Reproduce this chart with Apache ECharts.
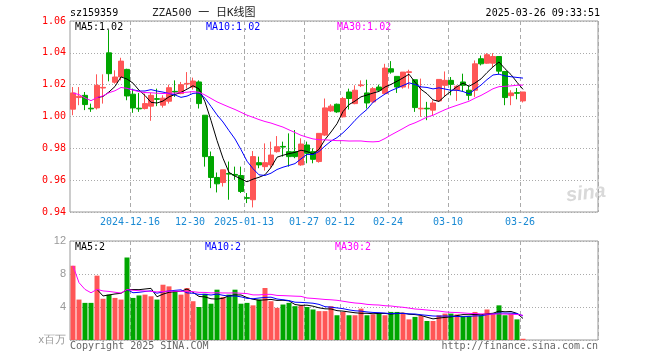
<!DOCTYPE html>
<html><head><meta charset="utf-8">
<script src="https://cdn.jsdelivr.net/npm/echarts/dist/echarts.min.js"></script>
<style>html,body{margin:0;padding:0;background:#fff}#c{width:660px;height:360px}</style>
</head><body><div id="c"></div><script>
const dates = [
 '2024-12-02','2024-12-03','2024-12-04','2024-12-05','2024-12-06','2024-12-09','2024-12-10','2024-12-11','2024-12-12','2024-12-13',
 '2024-12-16','2024-12-17','2024-12-18','2024-12-19','2024-12-20','2024-12-23','2024-12-24','2024-12-25','2024-12-26','2024-12-27',
 '2024-12-30','2024-12-31','2025-01-02','2025-01-03','2025-01-06','2025-01-07','2025-01-08','2025-01-09','2025-01-10','2025-01-13',
 '2025-01-14','2025-01-15','2025-01-16','2025-01-17','2025-01-20','2025-01-21','2025-01-22','2025-01-23','2025-01-24','2025-01-27',
 '2025-02-05','2025-02-06','2025-02-07','2025-02-10','2025-02-11','2025-02-12','2025-02-13','2025-02-14','2025-02-17','2025-02-18',
 '2025-02-19','2025-02-20','2025-02-21','2025-02-24','2025-02-25','2025-02-26','2025-02-27','2025-02-28','2025-03-03','2025-03-04',
 '2025-03-05','2025-03-06','2025-03-07','2025-03-10','2025-03-11','2025-03-12','2025-03-13','2025-03-14','2025-03-17','2025-03-18',
 '2025-03-19','2025-03-20','2025-03-21','2025-03-24','2025-03-25','2025-03-26'];
const opens = [
 1.0046,1.0119,1.0133,1.0052,1.0054,1.0179,1.0400,1.0215,1.0248,1.0296,
 1.0140,1.0052,1.0050,1.0065,1.0112,1.0071,1.0096,1.0158,1.0144,1.0204,
 1.0185,1.0217,1.0008,0.9748,0.9617,0.9585,0.9642,0.9636,0.9629,0.9490,
 0.9477,0.9710,0.9685,0.9696,0.9779,0.9812,0.9779,0.9779,0.9696,0.9821,
 0.9779,0.9717,0.9883,1.0035,1.0077,0.9998,1.0154,1.0081,1.0194,1.0148,
 1.0092,1.0185,1.0144,1.0300,1.0252,1.0185,1.0277,1.0231,1.0048,1.0052,
 1.0040,1.0098,1.0196,1.0227,1.0165,1.0217,1.0165,1.0165,1.0363,1.0335,
 1.0335,1.0377,1.0283,1.0131,1.0150,1.0098];
const closes = [
 1.0148,1.0127,1.0075,1.0048,1.0196,1.0183,1.0269,1.0248,1.0348,1.0129,
 1.0054,1.0048,1.0081,1.0133,1.0108,1.0115,1.0181,1.0154,1.0200,1.0208,
 1.0223,1.0081,0.9748,0.9617,0.9577,0.9665,0.9638,0.9631,0.9529,0.9486,
 0.9748,0.9696,0.9710,0.9758,0.9810,0.9808,0.9748,0.9748,0.9827,0.9769,
 0.9731,0.9894,1.0054,1.0065,1.0029,1.0113,1.0113,1.0165,1.0198,1.0085,
 1.0175,1.0165,1.0304,1.0279,1.0185,1.0279,1.0281,1.0056,1.0052,1.0048,
 1.0085,1.0233,1.0227,1.0202,1.0190,1.0196,1.0133,1.0331,1.0331,1.0388,
 1.0377,1.0285,1.0119,1.0148,1.0146,1.0154];
const lows = [
 1.0008,1.0071,1.0040,1.0029,1.0044,1.0081,1.0221,1.0206,1.0227,1.0102,
 1.0023,1.0029,1.0044,0.9973,1.0065,1.0056,1.0081,1.0123,1.0140,1.0175,
 1.0169,1.0050,0.9685,0.9550,0.9523,0.9560,0.9477,0.9602,0.9519,0.9456,
 0.9429,0.9675,0.9660,0.9675,0.9773,0.9748,0.9685,0.9738,0.9690,0.9706,
 0.9706,0.9710,0.9877,1.0029,1.0023,0.9994,1.0044,1.0077,1.0185,1.0050,
 1.0085,1.0160,1.0140,1.0269,1.0148,1.0175,1.0175,1.0029,0.9998,0.9977,
 1.0004,1.0092,1.0127,1.0133,1.0098,1.0158,1.0102,1.0123,1.0321,1.0331,
 1.0310,1.0265,1.0071,1.0071,1.0108,1.0088];
const highs = [
 1.0185,1.0185,1.0154,1.0081,1.0265,1.0265,1.0544,1.0290,1.0369,1.0300,
 1.0175,1.0148,1.0144,1.0148,1.0175,1.0133,1.0200,1.0227,1.0217,1.0279,
 1.0244,1.0227,1.0008,0.9780,0.9648,0.9665,0.9717,0.9685,0.9685,0.9519,
 0.9783,0.9748,0.9831,0.9842,0.9877,0.9842,0.9894,0.9915,0.9863,0.9842,
 0.9800,0.9894,1.0113,1.0077,1.0081,1.0123,1.0175,1.0196,1.0227,1.0231,
 1.0185,1.0200,1.0331,1.0348,1.0252,1.0279,1.0294,1.0231,1.0238,1.0092,
 1.0102,1.0233,1.0283,1.0248,1.0196,1.0269,1.0196,1.0352,1.0383,1.0398,
 1.0398,1.0377,1.0283,1.0165,1.0179,1.0154];
const volumes = [
 9.0,4.9,4.5,4.5,7.8,5.0,5.5,5.1,4.9,10.0,
 5.1,5.4,5.5,5.3,4.9,6.7,6.5,5.9,5.5,6.3,
 4.7,4.0,5.6,4.4,6.1,5.2,5.5,6.1,4.4,4.5,
 4.2,4.9,6.3,4.7,3.9,4.3,4.5,4.1,4.2,4.0,
 3.7,3.5,3.5,4.1,3.0,3.4,3.0,3.0,3.8,3.0,
 3.1,3.2,3.0,3.4,3.4,3.3,2.5,2.8,2.9,2.3,
 2.3,3.0,3.2,3.2,3.1,2.9,2.9,3.4,3.0,3.7,
 3.2,4.2,3.0,3.2,2.5,0.15];
const tickDates = ['2024-12-16','2024-12-30','2025-01-13','2025-01-27','2025-02-12','2025-02-24','2025-03-10','2025-03-26'];
const tickLabels = ['2024-12-16','12-30','2025-01-13','01-27','02-12','02-24','03-10','03-26'];
const priceAxis = {min:0.94, max:1.06, interval:0.02};
const volAxis = {min:0, max:12, interval:4};
const priceLegend = ['MA5:1.02','MA10:1.02','MA30:1.02'];
const volLegend = ['MA5:2','MA10:2','MA30:2'];
const headerLeft = 'sz159359';
const headerTitle = 'ZZA500 一 日K线图';
const headerTime = '2025-03-26 09:33:51';
const TOTAL_SLOTS = 88;

const UP = '#ff5656', DOWN = '#00a600';
const MONO = '"DejaVu Sans Mono", monospace';
const cats = dates.slice();
for (let i = dates.length; i < TOTAL_SLOTS; i++) cats.push('_' + i);
const tickIdx = tickDates.map(d => dates.indexOf(d));
const labelOf = {}; tickDates.forEach((d, i) => labelOf[d] = tickLabels[i]);

function ma(arr, n, partial) {
  return arr.map((_, i) => {
    if (i < n - 1 && !partial) return '-';
    const s = arr.slice(Math.max(0, i - n + 1), i + 1);
    return +(s.reduce((a, b) => a + b, 0) / s.length).toFixed(5);
  });
}
const isUp = closes.map((c, i) => c >= opens[i]);
const kData = opens.map((o, i) => [o, closes[i], lows[i], highs[i]]);
const volData = volumes.map((v, i) => ({value: v, itemStyle: {color: isUp[i] ? UP : DOWN}}));

const chart = echarts.init(document.getElementById('c'), null, {renderer: 'canvas'});
const xBase = (gi, showLabel) => ({
  type: 'category', gridIndex: gi, data: cats, boundaryGap: true,
  axisLine: {show: false}, axisTick: {show: false},
  axisLabel: {show: showLabel, interval: (i) => tickIdx.includes(i), formatter: (v) => labelOf[v] || '',
    color: '#1a8ad4', font: '10px ' + MONO, fontFamily: 'DejaVu Sans Mono', fontSize: 10, margin: 5, padding: [0, 6, 0, 0]},
  splitLine: {show: true, interval: (i) => tickIdx.includes(i), lineStyle: {color: '#aaa', type: [4, 3], width: 1}}
});
const lineS = (name, data, color, xi, yi) => ({
  type: 'line', name, data, xAxisIndex: xi, yAxisIndex: yi, showSymbol: false, symbol: 'none',
  lineStyle: {color, width: 1}, itemStyle: {color}, animation: false, silent: true
});
const txt = (text, x, y, fill, size, align, fam) => ({
  type: 'text', x, y, silent: true,
  style: {text, fill, font: size + 'px ' + (fam || MONO), textAlign: align || 'left', align: align || 'left',
    textVerticalAlign: 'middle', verticalAlign: 'middle'}
});

chart.setOption({
  animation: false,
  backgroundColor: '#fff',
  grid: [
    {left: 70, top: 21, width: 528, height: 191, show: true, borderColor: '#999', borderWidth: 1},
    {left: 70, top: 241, width: 528, height: 99, show: true, borderColor: '#999', borderWidth: 1}
  ],
  xAxis: [xBase(0, true), xBase(1, false)],
  yAxis: [
    {type: 'value', gridIndex: 0, min: priceAxis.min, max: priceAxis.max, interval: priceAxis.interval,
      axisLine: {show: false}, axisTick: {show: false},
      axisLabel: {color: '#ff0000', fontFamily: 'DejaVu Sans Mono', fontSize: 10, margin: 4, formatter: v => v.toFixed(2)},
      splitLine: {show: true, lineStyle: {color: '#aaa', type: [1, 2]}}},
    {type: 'value', gridIndex: 1, min: volAxis.min, max: volAxis.max, interval: volAxis.interval,
      axisLine: {show: false}, axisTick: {show: false},
      axisLabel: {color: '#999', fontFamily: 'Liberation Sans', fontSize: 11, margin: 4, formatter: v => v === 0 ? 'x百万' : String(v)},
      splitLine: {show: true, lineStyle: {color: '#aaa', type: [1, 2]}}}
  ],
  series: [
    {type: 'candlestick', data: kData, xAxisIndex: 0, yAxisIndex: 0, barWidth: 5,
      itemStyle: {color: UP, color0: DOWN, borderColor: UP, borderColor0: DOWN, borderWidth: 1}, silent: true},
    lineS('MA5', ma(closes, 5, false), '#000000', 0, 0),
    lineS('MA10', ma(closes, 10, false), '#0000ff', 0, 0),
    lineS('MA30', ma(closes, 30, true), '#ff00ff', 0, 0),
    {type: 'bar', data: volData, xAxisIndex: 1, yAxisIndex: 1, barWidth: 5, silent: true},
    lineS('VMA5', ma(volumes, 5, false), '#000000', 1, 1),
    lineS('VMA10', ma(volumes, 10, false), '#0000ff', 1, 1),
    lineS('VMA30', ma(volumes, 30, true), '#ff00ff', 1, 1)
  ],
  graphic: [
    txt(headerLeft, 70, 13, '#000', 10),
    txt(headerTitle, 152, 13, '#222', 11, 'left', '"DejaVu Sans Mono", "Noto Sans CJK SC"'),
    txt(headerTime, 600, 13, '#000', 10, 'right'),
    txt(priceLegend[0], 75, 27, '#000', 10),
    txt(priceLegend[1], 206, 27, '#0000ff', 10),
    txt(priceLegend[2], 337, 27, '#ff00ff', 10),
    txt(volLegend[0], 75, 247, '#000', 10),
    txt(volLegend[1], 205, 247, '#0000ff', 10),
    txt(volLegend[2], 335, 247, '#ff00ff', 10),
    txt('Copyright 2025 SINA.COM', 70, 346, '#666', 10),
    txt('http://finance.sina.com.cn', 598, 346, '#666', 10, 'right'),
    {type: 'text', x: 566, y: 196, silent: true, rotation: 0.12,
      style: {text: 'sina', fill: '#d9d9d9', font: 'italic bold 20px "Liberation Sans"', verticalAlign: 'middle', textVerticalAlign: 'middle'}}
  ]
});
</script></body></html>
